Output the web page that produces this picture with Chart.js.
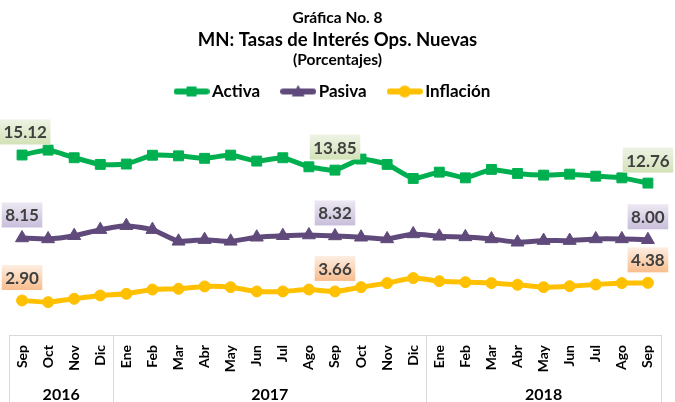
<!DOCTYPE html>
<html><head><meta charset="utf-8">
<script src="https://cdn.jsdelivr.net/npm/chart.js@4.4.1/dist/chart.umd.min.js"></script>
<style>html,body{margin:0;padding:0;background:#fff}canvas{display:block}</style>
</head><body>
<canvas id="c" width="675" height="402"></canvas>
<script>
const categories = ['Sep','Oct','Nov','Dic','Ene','Feb','Mar','Abr','May','Jun','Jul','Ago','Sep','Oct','Nov','Dic','Ene','Feb','Mar','Abr','May','Jun','Jul','Ago','Sep'];
const years = ['2016','2017','2018'];
const yearFirst = [0, 4, 16];
const yearLast = [3, 15, 24];
const seriesNames = ['Activa', 'Pasiva', 'Inflación'];
const activa = [15.12,15.53,14.89,14.33,14.36,15.10,15.05,14.84,15.11,14.61,14.89,14.13,13.85,14.78,14.33,13.15,13.68,13.20,13.91,13.57,13.43,13.51,13.34,13.20,12.76];
const pasiva = [8.15,8.07,8.34,8.85,9.18,8.85,7.87,8.01,7.87,8.21,8.34,8.40,8.32,8.21,8.07,8.49,8.29,8.24,8.07,7.79,7.93,7.93,8.07,8.07,8.00];
const inflacion = [2.90,2.76,3.04,3.32,3.46,3.82,3.88,4.08,4.02,3.66,3.66,3.82,3.66,4.02,4.36,4.78,4.52,4.44,4.36,4.22,4.02,4.10,4.24,4.36,4.38];
const labelIdx = [0, 12, 24];
const titleLines = ['Gráfica No. 8', 'MN: Tasas de Interés Ops. Nuevas', '(Porcentajes)'];

const FONT = 'Lato, "Open Sans", sans-serif';
const colors = ['#00B050', '#604A7B', '#FFC000'];
const styles = ['rect', 'triangle', 'circle'];
const radii = [7, 7.5, 5.5];
const labelFills = [['#EEF3E4', '#D3E2B8'], ['#ECE8F2', '#C9BEDB'], ['#FDEEE2', '#F8BD8D']];

function makeIcon(color, style) {
  const cv = document.createElement('canvas');
  cv.width = 36; cv.height = 14;
  const g = cv.getContext('2d');
  g.strokeStyle = color; g.lineWidth = 6; g.lineCap = 'round';
  g.beginPath(); g.moveTo(3, 7); g.lineTo(33, 7); g.stroke();
  g.fillStyle = color;
  if (style === 'rect') g.fillRect(13, 2, 10, 10);
  else if (style === 'triangle') { g.beginPath(); g.moveTo(18, 0.5); g.lineTo(24.5, 12); g.lineTo(11.5, 12); g.closePath(); g.fill(); }
  else { g.beginPath(); g.arc(18, 7, 6, 0, Math.PI * 2); g.fill(); }
  return cv;
}
const icons = colors.map((c, i) => makeIcon(c, styles[i]));

const decor = {
  id: 'decor',
  afterDraw(chart) {
    const {ctx, chartArea, scales: {x}} = chart;
    ctx.save();
    ctx.fillStyle = '#000'; ctx.textAlign = 'center'; ctx.textBaseline = 'middle';
    ctx.font = `bold 15.5px ${FONT}`; ctx.fillText(titleLines[0], 337.5, 18);
    ctx.font = `bold 18.5px ${FONT}`; ctx.fillText(titleLines[1], 337.5, 40);
    ctx.font = `bold 15.5px ${FONT}`; ctx.fillText(titleLines[2], 337.5, 60);
    // category box lines
    ctx.strokeStyle = '#D9D9D9'; ctx.lineWidth = 1;
    const bounds = [chartArea.left];
    for (let k = 1; k < years.length; k++) bounds.push((x.getPixelForValue(yearLast[k - 1]) + x.getPixelForValue(yearFirst[k])) / 2);
    bounds.push(chartArea.right);
    bounds.forEach(b => { const bx = Math.round(b) + 0.5; ctx.beginPath(); ctx.moveTo(bx, chartArea.bottom); ctx.lineTo(bx, 402); ctx.stroke(); });
    // years
    ctx.fillStyle = '#000';
    ctx.font = `bold 16px ${FONT}`;
    years.forEach((yr, k) => {
      const cx = (x.getPixelForValue(yearFirst[k]) + x.getPixelForValue(yearLast[k])) / 2;
      ctx.fillText(yr, cx, 395);
    });
    // data labels
    ctx.font = `bold 17px ${FONT}`;
    chart.data.datasets.forEach((ds, i) => {
      const meta = chart.getDatasetMeta(i);
      labelIdx.forEach(idx => {
        const pt = meta.data[idx];
        const txt = ds.data[idx].toFixed(2);
        const w = ctx.measureText(txt).width + 7, h = 25;
        let left = pt.x - w / 2;
        left = Math.max(0, Math.min(675 - w - 1, left));
        const cy = pt.y - 23, top = cy - h / 2;
        const grad = ctx.createLinearGradient(0, top, 0, top + h);
        grad.addColorStop(0, labelFills[i][0]); grad.addColorStop(1, labelFills[i][1]);
        ctx.fillStyle = grad;
        ctx.fillRect(left, top, w, h);
        ctx.fillStyle = '#404040';
        ctx.fillText(txt, left + w / 2, cy + 1);
      });
    });
    ctx.restore();
  }
};

new Chart(document.getElementById('c'), {
  type: 'line',
  data: {
    labels: categories,
    datasets: [activa, pasiva, inflacion].map((d, i) => ({
      label: seriesNames[i], data: d,
      borderColor: colors[i], backgroundColor: colors[i],
      borderWidth: 5, pointStyle: styles[i], pointRadius: radii[i], pointBorderWidth: 1,
      pointBackgroundColor: colors[i], pointBorderColor: colors[i],
      tension: 0.15, fill: false, clip: false
    }))
  },
  options: {
    responsive: false, animation: false, devicePixelRatio: 1,
    layout: {padding: {top: 57, left: 9, right: 14, bottom: 0}},
    scales: {
      x: {
        type: 'category', offset: true,
        grid: {display: false, drawTicks: false},
        border: {display: true, color: '#D9D9D9'},
        ticks: {minRotation: 90, maxRotation: 90, autoSkip: false, padding: 10, color: '#000', font: {family: FONT, weight: 'bold', size: 14}},
        afterFit(s) { s.height = 67; }
      },
      y: {display: false, min: 0, max: 18.9}
    },
    plugins: {
      tooltip: {enabled: false},
      legend: {
        display: true, position: 'top',
        labels: {
          usePointStyle: true, pointStyleWidth: 24, padding: 26, color: '#000',
          font: {family: FONT, weight: 'bold', size: 17},
          generateLabels(chart) {
            const items = Chart.defaults.plugins.legend.labels.generateLabels(chart);
            items.forEach((it, i) => { it.pointStyle = icons[i]; });
            return items;
          }
        }
      }
    }
  },
  plugins: [decor]
});
</script>
</body></html>
